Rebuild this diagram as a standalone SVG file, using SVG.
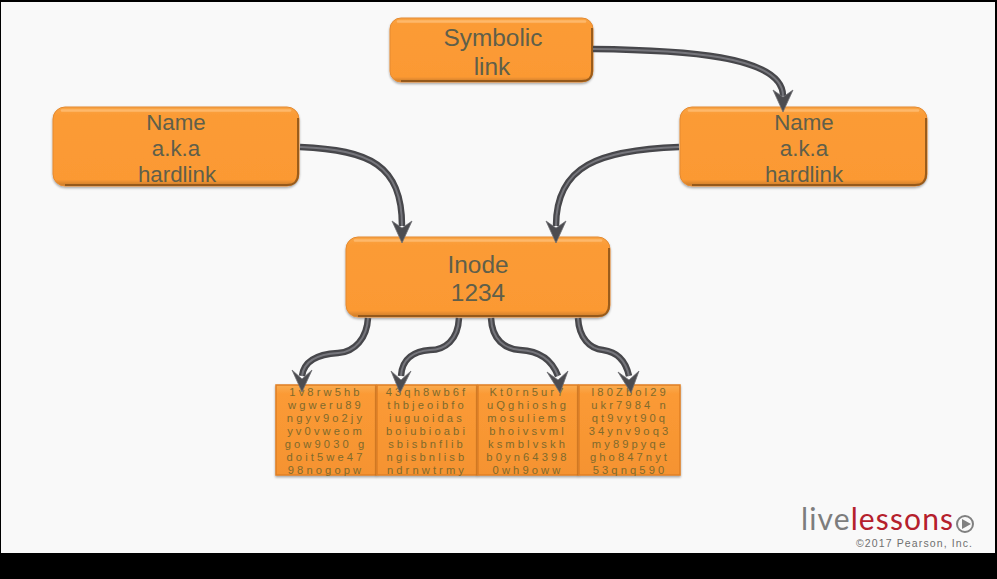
<svg xmlns="http://www.w3.org/2000/svg" width="997" height="579" viewBox="0 0 997 579">
<style>
.n{fill:url(#o);stroke:#e58a30;stroke-width:1;filter:url(#s)}
.hi{fill:none;stroke:#ffc07a;stroke-width:2.5;opacity:.75;stroke-linecap:round}
.lo{fill:none;stroke:#8a5218;stroke-width:2;opacity:.85}
.t{font-family:"Liberation Sans",Arial,sans-serif;font-size:24.4px;fill:#5f5f4a;text-anchor:middle}
.t2{font-size:22.3px}
.c{fill:url(#o2);stroke:#e07f24;stroke-width:1.5;filter:url(#s)}
.d{font-family:"Liberation Sans",Arial,sans-serif;font-size:11.2px;letter-spacing:3.1px;fill:#7f6a2c;text-anchor:middle}
.w{fill:none;stroke:#47474b;stroke-width:6.5}
.w2{fill:none;stroke:#76767c;stroke-width:2}
.a{fill:#4c4c50;stroke:#707074;stroke-width:.8;stroke-linejoin:round}
</style>
<defs>
<linearGradient id="o" x1="0" y1="0" x2="0" y2="1"><stop offset="0" stop-color="#f9a545"/><stop offset=".1" stop-color="#fb9b36"/><stop offset=".92" stop-color="#fb9933"/><stop offset="1" stop-color="#c87a2a"/></linearGradient>
<linearGradient id="o2" x1="0" y1="0" x2="0" y2="1"><stop offset="0" stop-color="#f9ac50"/><stop offset=".1" stop-color="#fb9a35"/><stop offset="1" stop-color="#f59331"/></linearGradient>
<filter id="s" x="-5%" y="-10%" width="110%" height="125%"><feDropShadow dx="0" dy="1.5" stdDeviation="1.2" flood-color="#000" flood-opacity=".35"/></filter>
</defs>
<rect width="997" height="579" fill="#000"/>
<rect x="1" y="2" width="994" height="551" fill="#f9f9f9"/>
<g id="symbolic">
<rect class="n" x="390" y="18" width="203" height="64" rx="11"/>
<path class="hi" d="M398 21.500H585"/>
<path class="lo" d="M592 28V71Q592 81 582 81H401"/>
<text class="t"><tspan x="493" y="46">Symbolic</tspan><tspan x="492" y="75">link</tspan></text>
</g>
<g id="name-left">
<rect class="n" x="53" y="107" width="246" height="79" rx="12"/>
<path class="hi" d="M62 110.500H290"/>
<path class="lo" d="M298 118V174Q298 185 287 185H65"/>
<text class="t t2"><tspan x="176" y="130">Name</tspan><tspan x="176" y="156">a.k.a</tspan><tspan x="177" y="182">hardlink</tspan></text>
</g>
<g id="name-right">
<rect class="n" x="680" y="107" width="247" height="79" rx="12"/>
<path class="hi" d="M689 110.500H918"/>
<path class="lo" d="M926 118V174Q926 185 915 185H692"/>
<text class="t t2"><tspan x="804" y="130">Name</tspan><tspan x="804" y="156">a.k.a</tspan><tspan x="804" y="182">hardlink</tspan></text>
</g>
<g id="inode">
<rect class="n" x="346" y="237" width="264" height="80" rx="12"/>
<path class="hi" d="M355 240.500H601"/>
<path class="lo" d="M609 248V305Q609 316 598 316H358"/>
<text class="t"><tspan x="478" y="273">Inode</tspan><tspan x="478" y="301">1234</tspan></text>
</g>
<g id="block-1">
<rect class="c" x="276" y="385" width="100" height="90"/>
<text class="d"><tspan x="326" y="396">1v8rw5hb</tspan><tspan x="326" y="409">wgweru89</tspan><tspan x="326" y="422">ngyv9o2jy</tspan><tspan x="326" y="435">yv0vweom</tspan><tspan x="326" y="448">gow9030 g</tspan><tspan x="326" y="461">doit5we47</tspan><tspan x="326" y="474">98nogopw</tspan></text>
</g>
<g id="block-2">
<rect class="c" x="377" y="385" width="100" height="90"/>
<text class="d"><tspan x="427" y="396">43qh8wb6f</tspan><tspan x="427" y="409">thbjeoibfo</tspan><tspan x="427" y="422">iuguoidas</tspan><tspan x="427" y="435">boiubioabi</tspan><tspan x="427" y="448">sbisbnflib</tspan><tspan x="427" y="461">ngisbnlisb</tspan><tspan x="427" y="474">ndrnwtrmy</tspan></text>
</g>
<g id="block-3">
<rect class="c" x="478" y="385" width="100" height="90"/>
<text class="d"><tspan x="528" y="396">Kt0rn5ur7</tspan><tspan x="528" y="409">uQghioshg</tspan><tspan x="528" y="422">mosuliems</tspan><tspan x="528" y="435">bhoivsvml</tspan><tspan x="528" y="448">ksmblvskh</tspan><tspan x="528" y="461">b0yn64398</tspan><tspan x="528" y="474">0wh9oww</tspan></text>
</g>
<g id="block-4">
<rect class="c" x="579" y="385" width="101" height="90"/>
<text class="d"><tspan x="630" y="396">I80Zbol29</tspan><tspan x="630" y="409">ukr7984 n</tspan><tspan x="630" y="422">qt9vyt90q</tspan><tspan x="630" y="435">34ynv9oq3</tspan><tspan x="630" y="448">my89pyqe</tspan><tspan x="630" y="461">gho847nyt</tspan><tspan x="630" y="474">53qnq590</tspan></text>
</g>
<g id="connectors">
<path class="w" d="M593 49C680 50 783 55 783 96"/><path class="w2" d="M593 49C680 50 783 55 783 96"/>
<path class="a" d="M773 90L783 97L793 90L783 112Z"/>
<path class="w" d="M300 147C370 150 402 165 402 226"/><path class="w2" d="M300 147C370 150 402 165 402 226"/>
<path class="a" d="M392 221L402 228L412 221L402 243Z"/>
<path class="w" d="M679 147C600 150 556 165 556 226"/><path class="w2" d="M679 147C600 150 556 165 556 226"/>
<path class="a" d="M546 221L556 228L566 221L556 243Z"/>
<path class="w" d="M368 318C367 338 355 352 338 353C320 354 304 360 302 376"/><path class="w2" d="M368 318C367 338 355 352 338 353C320 354 304 360 302 376"/>
<path class="a" d="M292 370L302 379L312 370L302 392Z"/>
<path class="w" d="M459 318C458 340 445 350 430 350C415 351 402 358 401 376"/><path class="w2" d="M459 318C458 340 445 350 430 350C415 351 402 358 401 376"/>
<path class="a" d="M391 371L401 380L411 371L400 393Z"/>
<path class="w" d="M491 318C492 340 505 349 520 350C540 351 552 360 558 376"/><path class="w2" d="M491 318C492 340 505 349 520 350C540 351 552 360 558 376"/>
<path class="a" d="M547 372L558 380L568 371L560 393Z"/>
<path class="w" d="M578 318C579 338 590 349 603 350C618 352 626 362 629 376"/><path class="w2" d="M578 318C579 338 590 349 603 350C618 352 626 362 629 376"/>
<path class="a" d="M618 372L629 380L639 371L631 393Z"/>
</g>
<text x="801" y="530" font-family="Lato,'Liberation Sans',sans-serif" font-size="30" fill="#7d7d7d" textLength="152" lengthAdjust="spacing">live<tspan fill="#b5202c">lessons</tspan></text>
<circle cx="965" cy="524" r="8" fill="none" stroke="#808080" stroke-width="2"/>
<path d="M962 519L971 524L962 529Z" fill="#808080"/>
<text x="856" y="547" font-family="'Liberation Sans',sans-serif" font-size="10.500" fill="#6f6f6f" textLength="116" lengthAdjust="spacing">©2017 Pearson, Inc.</text>
</svg>
